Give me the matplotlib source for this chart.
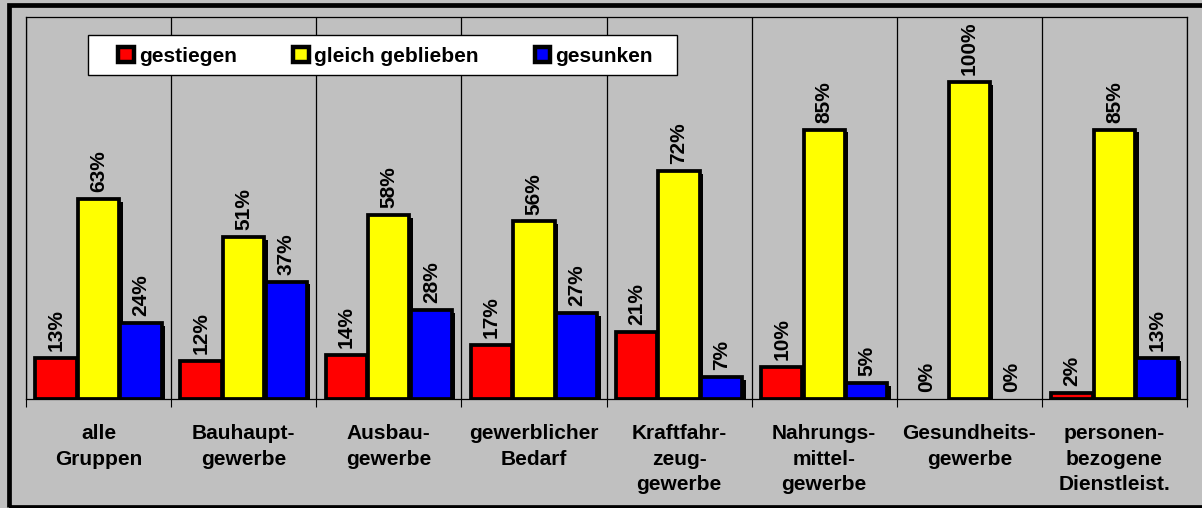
import matplotlib
matplotlib.use("Agg")
import matplotlib.pyplot as plt
import matplotlib.patheffects as pe
from matplotlib.patches import Patch, Rectangle
import numpy as np

plt.rcParams['font.family'] = ['Liberation Sans', 'DejaVu Sans']
plt.rcParams['font.weight'] = 'bold'

categories = ["alle\nGruppen", "Bauhaupt-\ngewerbe", "Ausbau-\ngewerbe",
              "gewerblicher\nBedarf", "Kraftfahr-\nzeug-\ngewerbe",
              "Nahrungs-\nmittel-\ngewerbe", "Gesundheits-\ngewerbe",
              "personen-\nbezogene\nDienstleist."]
series_names = ["gestiegen", "gleich geblieben", "gesunken"]
gestiegen = [13, 12, 14, 17, 21, 10, 0, 2]
gleich = [63, 51, 58, 56, 72, 85, 100, 85]
gesunken = [24, 37, 28, 27, 7, 5, 0, 13]
series = [gestiegen, gleich, gesunken]
colors = ["#FF0000", "#FFFF00", "#0000FF"]

W, H = 1202, 508
fig = plt.figure(figsize=(W / 100, H / 100), dpi=100)
fig.patch.set_facecolor("#C0C0C0")
ax = fig.add_axes([26 / W, 1 - 399 / H, (1187 - 26) / W, (399 - 17) / H])
ax.set_facecolor("#C0C0C0")

n = len(categories)
centers = np.arange(n) + 0.5
width = 0.285
offsets = [-0.293, 0.0, 0.293]
shadow = [pe.SimplePatchShadow(offset=(2.5, -2), shadow_rgbFace='black', alpha=1.0), pe.Normal()]
for vals, col, off in zip(series, colors, offsets):
    bars = ax.bar(centers + off, vals, width, color=col, edgecolor='black',
                  linewidth=2.7, zorder=3)
    for b, v in zip(bars, vals):
        b.set_path_effects(shadow)
        if v == 0:
            b.set_visible(False)
    for x, v in zip(centers + off, vals):
        ax.annotate(f"{v}%", (x, v), xytext=(0, 5), textcoords='offset points',
                    rotation=90, ha='center', va='bottom', fontsize=15,
                    fontweight='bold', zorder=4)

ax.set_xlim(0, n)
ax.set_ylim(0, 120.5)
ax.set_yticks([])
ax.set_xticks(np.arange(n + 1))
ax.set_xticklabels([])
ax.set_xticks(centers, minor=True)
ax.set_xticklabels(categories, minor=True, fontsize=15, fontweight='bold',
                   linespacing=1.45)
ax.tick_params(axis='x', which='major', length=6, width=0.8, color='black', direction='out')
ax.tick_params(axis='x', which='minor', length=0, pad=18)
ax.grid(axis='x', which='major', color='black', linewidth=0.9, zorder=1)
ax.set_axisbelow(True)
for s in ax.spines.values():
    s.set_color('black')
    s.set_linewidth(0.9)

# legend box
legbox = Rectangle((88 / W, 1 - 75 / H), (677 - 88) / W, (75 - 34.5) / H,
                   transform=fig.transFigure, facecolor='white', edgecolor='black',
                   linewidth=1.0, zorder=8)
fig.add_artist(legbox)
handles = [Patch(facecolor=c, edgecolor='black', linewidth=3.2) for c in colors]
leg = fig.legend(handles, series_names, ncol=3, loc='center left',
                 bbox_to_anchor=(118 / W, 1 - 56.5 / H), bbox_transform=fig.transFigure,
                 prop={'weight': 'bold', 'size': 15},
                 frameon=False,
                 handlelength=0.75, handleheight=0.75, handletextpad=0.25,
                 columnspacing=2.7, borderpad=0.0, borderaxespad=0)
leg.set_zorder(9)

border = Rectangle((8.5 / W, 1 - 506.5 / H), (1215 - 8.5) / W, (506.5 - 5) / H,
                   transform=fig.transFigure, fill=False, edgecolor='black',
                   linewidth=3.4, zorder=10, clip_on=False)
fig.add_artist(border)

fig.savefig("out.png", dpi=100, facecolor=fig.get_facecolor())
